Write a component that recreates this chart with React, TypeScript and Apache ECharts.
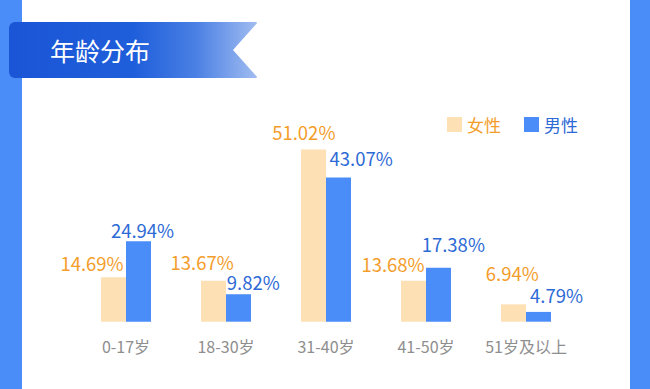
import React, { useEffect, useRef } from "react";
import * as echarts from "echarts";

const title = "年龄分布";
const categories = ["0-17岁", "18-30岁", "31-40岁", "41-50岁", "51岁及以上"];
const seriesNames = ["女性", "男性"];
const femaleValues = [14.69, 13.67, 51.02, 13.68, 6.94];
const maleValues = [24.94, 9.82, 43.07, 17.38, 4.79];
// label offsets [dx, dy] relative to the default "top" position
const femaleLabelOffsets = [[-21.5, -5], [-11.3, -9], [-9.7, -8.4], [-20.5, -7.3], [-1.3, -22]];
const maleLabelOffsets = [[4, -2], [14.7, -3.2], [22.7, -10], [14.8, -14.6], [18, -7.4]];

const FEMALE_BAR = "#fde0b4";
const MALE_BAR = "#4b8df8";
const FEMALE_TEXT = "#f39d2b";
const MALE_TEXT = "#2d6ad6";
const STRIP = "#4b8df8";
const FONT = "Noto Sans CJK SC";

export default function App() {
  const ref = useRef<HTMLDivElement>(null);
  useEffect(() => {
    if (!ref.current) return;
    const chart = echarts.init(ref.current, undefined, { renderer: "svg" });
    const mk = (vals: number[], offs: number[][]) =>
      vals.map((v, i) => ({
        value: v,
        label: { offset: offs[i] },
      }));
    const labelCfg = (color: string) => ({
      show: true,
      position: "top",
      distance: 0,
      color,
      fontSize: 18.5,
      fontFamily: FONT,
      formatter: (p: any) => `${Number(p.value).toFixed(2)}%`,
    });
    chart.setOption({
      animation: false,
      backgroundColor: "#ffffff",
      textStyle: { fontFamily: FONT },
      graphic: [
        { type: "rect", z: 1, shape: { x: 0, y: 0, width: 22, height: 389 }, style: { fill: STRIP } },
        { type: "rect", z: 1, shape: { x: 630, y: 0, width: 20, height: 389 }, style: { fill: STRIP } },
        {
          type: "rect",
          z: 2,
          shape: { x: 9, y: 22, width: 249, height: 56, r: [6, 3, 3, 6] },
          style: {
            fill: new echarts.graphic.LinearGradient(0, 0, 1, 0, [
              { offset: 0, color: "#1a55d5" },
              { offset: 0.5, color: "#1f5edb" },
              { offset: 0.75, color: "#4a80e4" },
              { offset: 1, color: "#a2bdf0" },
            ]),
          },
        },
        {
          type: "polygon",
          z: 3,
          shape: { points: [[259, 21], [233, 50], [259, 79]] },
          style: { fill: "#ffffff" },
        },
        {
          type: "text",
          z: 4,
          x: 50,
          y: 50,
          style: {
            text: title,
            fill: "#ffffff",
            font: `25px "${FONT}"`,
            verticalAlign: "middle",
            align: "left",
          },
        },
      ],
      legend: {
        left: 442,
        top: 111,
        itemWidth: 15,
        itemHeight: 15,
        itemGap: 23,
        icon: "rect",
        textStyle: { fontSize: 17, fontFamily: FONT },
        data: [
          { name: seriesNames[0], textStyle: { color: FEMALE_TEXT } },
          { name: seriesNames[1], textStyle: { color: MALE_TEXT } },
        ],
      },
      grid: { left: 76, right: 74, top: 118, bottom: 67.3 },
      xAxis: {
        type: "category",
        data: categories,
        axisLine: { show: false },
        axisTick: { show: false },
        axisLabel: { color: "#8e8e8e", fontSize: 16, margin: 16, interval: 0, fontFamily: FONT },
      },
      yAxis: {
        type: "value",
        show: false,
        min: 2,
        max: 60,
        splitLine: { show: false },
      },
      series: [
        {
          name: seriesNames[0],
          type: "bar",
          barWidth: 25,
          barGap: "0%",
          itemStyle: { color: FEMALE_BAR },
          label: labelCfg(FEMALE_TEXT),
          data: mk(femaleValues, femaleLabelOffsets),
        },
        {
          name: seriesNames[1],
          type: "bar",
          barWidth: 25,
          barGap: "0%",
          itemStyle: { color: MALE_BAR },
          label: labelCfg(MALE_TEXT),
          data: mk(maleValues, maleLabelOffsets),
        },
      ],
    });
    return () => chart.dispose();
  }, []);
  return (
    <div
      ref={ref}
      style={{ position: "fixed", left: 0, top: 0, width: 650, height: 389 }}
    />
  );
}
